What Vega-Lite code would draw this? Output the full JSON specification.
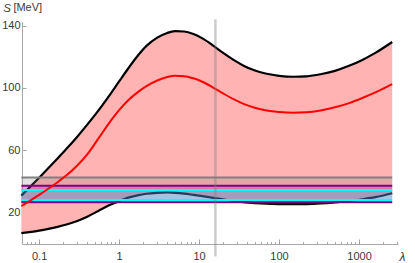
{
  "$schema": "https://vega.github.io/schema/vega-lite/v6.json",
  "width": 376,
  "height": 222,
  "autosize": {"type": "none"},
  "padding": {"left": 22, "top": 22, "right": 17, "bottom": 19},
  "background": "white",
  "title": {"text": "[MeV]", "anchor": "start", "frame": "group", "font": "Liberation Sans", "fontSize": 11, "fontWeight": "normal", "color": "#3a3a3a", "baseline": "alphabetic", "offset": -19, "dx": -8.6},
  "config": {
    "view": {"stroke": null},
    "axis": {"grid": false, "labelOverlap": false, "domainColor": "#a8a8a8", "tickColor": "#a8a8a8", "domainWidth": 1, "tickWidth": 1, "labelFont": "Liberation Sans", "labelFontSize": 11, "labelColor": "#3a3a3a", "titleFont": "Liberation Sans", "titleColor": "#3a3a3a", "titleFontWeight": "normal"},
    "axisY": {"labelOverlap": false},
    "axisX": {"labelOverlap": false}
  },
  "datasets": {
    "curves": [
      {"lam": 0.06, "lo": 7, "mid": 24.3, "hi": 31},
      {"lam": 0.08, "lo": 7.8, "mid": 28.3, "hi": 37.5},
      {"lam": 0.1, "lo": 8.6, "mid": 31.5, "hi": 42.5},
      {"lam": 0.13, "lo": 9.7, "mid": 35.4, "hi": 48.5},
      {"lam": 0.17, "lo": 11, "mid": 39.6, "hi": 54.8},
      {"lam": 0.22, "lo": 12.5, "mid": 44, "hi": 61},
      {"lam": 0.3, "lo": 14.8, "mid": 50.3, "hi": 68.8},
      {"lam": 0.4, "lo": 17.5, "mid": 57.4, "hi": 76.5},
      {"lam": 0.55, "lo": 21.2, "mid": 67.5, "hi": 85.5},
      {"lam": 0.75, "lo": 24.8, "mid": 77.5, "hi": 95},
      {"lam": 1, "lo": 27.5, "mid": 85.8, "hi": 104.2},
      {"lam": 1.3, "lo": 29.7, "mid": 92.2, "hi": 112.5},
      {"lam": 1.7, "lo": 31.2, "mid": 97.2, "hi": 120.5},
      {"lam": 2.2, "lo": 32.2, "mid": 101.2, "hi": 127},
      {"lam": 3, "lo": 32.8, "mid": 104.8, "hi": 132.3},
      {"lam": 4, "lo": 33, "mid": 107, "hi": 135.3},
      {"lam": 5, "lo": 32.8, "mid": 107.8, "hi": 136.4},
      {"lam": 6.5, "lo": 32.3, "mid": 107.6, "hi": 136.2},
      {"lam": 8.5, "lo": 31.5, "mid": 106.2, "hi": 134.6},
      {"lam": 11, "lo": 30.7, "mid": 104, "hi": 131.8},
      {"lam": 15, "lo": 29.6, "mid": 100.3, "hi": 127.2},
      {"lam": 20, "lo": 28.6, "mid": 96.5, "hi": 122.5},
      {"lam": 27, "lo": 27.6, "mid": 92.8, "hi": 118},
      {"lam": 36, "lo": 26.8, "mid": 89.8, "hi": 114.3},
      {"lam": 50, "lo": 26.2, "mid": 87.3, "hi": 111.2},
      {"lam": 70, "lo": 25.8, "mid": 85.6, "hi": 109.1},
      {"lam": 100, "lo": 25.6, "mid": 84.6, "hi": 107.8},
      {"lam": 150, "lo": 25.5, "mid": 84.1, "hi": 107.2},
      {"lam": 220, "lo": 25.6, "mid": 84.4, "hi": 107.5},
      {"lam": 330, "lo": 26, "mid": 85.6, "hi": 108.8},
      {"lam": 500, "lo": 26.7, "mid": 87.6, "hi": 111},
      {"lam": 750, "lo": 27.6, "mid": 90.3, "hi": 114.2},
      {"lam": 1100, "lo": 28.7, "mid": 93.6, "hi": 118},
      {"lam": 1600, "lo": 30, "mid": 97.2, "hi": 122.5},
      {"lam": 2600, "lo": 32.5, "mid": 102.5, "hi": 129.5}
    ],
    "bands": [
      {"band": "gray", "lo": 37.4, "hi": 42.7, "a": 0.06, "b": 2600},
      {"band": "purple", "lo": 26.7, "hi": 37.4, "a": 0.06, "b": 2600},
      {"band": "cyan", "lo": 28.2, "hi": 34.6, "a": 0.06, "b": 2600}
    ],
    "edges": [
      {"kind": "gray", "S": 42.7, "a": 0.06, "b": 2600},
      {"kind": "purple", "S": 37.4, "a": 0.06, "b": 2600},
      {"kind": "purple", "S": 26.7, "a": 0.06, "b": 2600},
      {"kind": "cyan", "S": 34.6, "a": 0.06, "b": 2600},
      {"kind": "cyan", "S": 28.2, "a": 0.06, "b": 2600}
    ],
    "marker": [{"lam": 16, "s0": -8, "s1": 144}]
  },
  "layer": [
    {
      "data": {"name": "curves"},
      "mark": {"type": "area", "color": "#ffb3b3", "interpolate": "monotone"},
      "encoding": {
        "x": {"field": "lam", "type": "quantitative", "scale": {"type": "log", "domain": [0.0611, 3072]},
          "axis": {"title": "λ", "titleFontStyle": "italic", "titleFontSize": 12, "titleX": 377, "titleY": 16, "titleAlign": "left", "titleBaseline": "alphabetic",
            "values": [0.07, 0.08, 0.09, 0.1, 0.2, 0.3, 0.4, 0.5, 0.6, 0.7, 0.8, 0.9, 1, 2, 3, 4, 5, 6, 7, 8, 9, 10, 20, 30, 40, 50, 60, 70, 80, 90, 100, 200, 300, 400, 500, 600, 700, 800, 900, 1000, 2000, 3000],
            "labelExpr": "indexof([0.1,1,10,100,1000], datum.value) >= 0 ? format(datum.value, '~g') : ''",
            "labelOverlap": false, "labelFlush": false, "labelPadding": 11, "tickSize": -5,
            "tickDash": {"condition": {"test": "indexof([0.1,1,10,100,1000], datum.value) < 0", "value": [2.5, 10]}, "value": [5, 0]}}},
        "y": {"field": "lo", "type": "quantitative", "scale": {"domain": [0, 142.3]},
          "axis": {"title": "S", "titleFontStyle": "italic", "titleFontSize": 11, "titleAngle": 0, "titleAlign": "left", "titleBaseline": "alphabetic", "titleX": -19, "titleY": -10.5,
            "values": [20, 40, 60, 80, 100, 120, 140], "format": "d",
            "labelOverlap": false, "labelFlush": false, "labelPadding": 6, "tickSize": -4}},
        "y2": {"field": "hi"}
      }
    },
    {
      "data": {"name": "curves"},
      "mark": {"type": "line", "color": "black", "strokeWidth": 2.2, "interpolate": "monotone"},
      "encoding": {
        "x": {"field": "lam", "type": "quantitative", "scale": {"type": "log", "domain": [0.0611, 3072]}},
        "y": {"field": "hi", "type": "quantitative", "scale": {"domain": [0, 142.3]}}
      }
    },
    {
      "data": {"name": "curves"},
      "mark": {"type": "line", "color": "black", "strokeWidth": 2.2, "interpolate": "monotone"},
      "encoding": {
        "x": {"field": "lam", "type": "quantitative", "scale": {"type": "log", "domain": [0.0611, 3072]}},
        "y": {"field": "lo", "type": "quantitative", "scale": {"domain": [0, 142.3]}}
      }
    },
    {
      "data": {"name": "bands"},
      "mark": {"type": "rect"},
      "encoding": {
        "x": {"field": "a", "type": "quantitative", "scale": {"type": "log", "domain": [0.0611, 3072]}},
        "x2": {"field": "b"},
        "y": {"field": "lo", "type": "quantitative", "scale": {"domain": [0, 142.3]}},
        "y2": {"field": "hi"},
        "fill": {"field": "band", "type": "nominal", "legend": null,
          "scale": {"domain": ["gray", "purple", "cyan"], "range": ["rgba(128,128,128,0.22)", "rgba(128,0,128,0.3)", "rgba(0,255,255,0.25)"]}}
      }
    },
    {
      "data": {"name": "edges"},
      "mark": {"type": "rule", "strokeWidth": 2},
      "encoding": {
        "x": {"field": "a", "type": "quantitative", "scale": {"type": "log", "domain": [0.0611, 3072]}},
        "x2": {"field": "b"},
        "y": {"field": "S", "type": "quantitative", "scale": {"domain": [0, 142.3]}},
        "stroke": {"field": "kind", "type": "nominal", "legend": null,
          "scale": {"domain": ["gray", "purple", "cyan"], "range": ["#808080", "#800080", "#00ffff"]}}
      }
    },
    {
      "data": {"name": "curves"},
      "mark": {"type": "line", "color": "#ff0000", "strokeWidth": 2, "interpolate": "monotone"},
      "encoding": {
        "x": {"field": "lam", "type": "quantitative", "scale": {"type": "log", "domain": [0.0611, 3072]}},
        "y": {"field": "mid", "type": "quantitative", "scale": {"domain": [0, 142.3]}}
      }
    },
    {
      "data": {"name": "marker"},
      "mark": {"type": "rule", "color": "#808080", "opacity": 0.4, "strokeWidth": 2.5},
      "encoding": {
        "x": {"field": "lam", "type": "quantitative", "scale": {"type": "log", "domain": [0.0611, 3072]}},
        "y": {"field": "s0", "type": "quantitative", "scale": {"domain": [0, 142.3]}},
        "y2": {"field": "s1"}
      }
    }
  ]
}
